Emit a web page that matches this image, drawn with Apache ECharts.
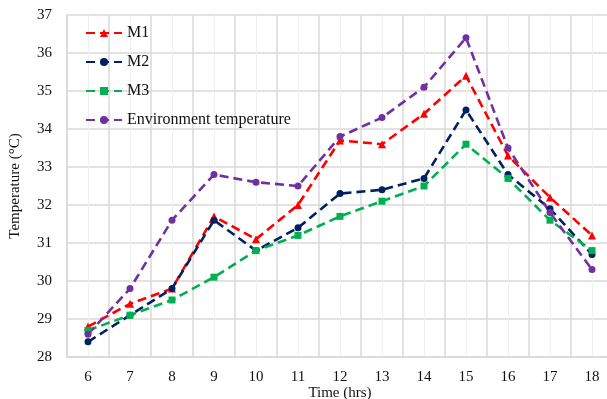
<!DOCTYPE html>
<html>
<head>
<meta charset="utf-8">
<script src="https://cdn.jsdelivr.net/npm/echarts@6/dist/echarts.min.js"></script>
<style>
  html, body { margin: 0; padding: 0; background: #fff; }
  #chart1 { width: 607px; height: 399px; }
</style>
</head>
<body>
<div id="chart1"></div>
<script>
const hours = ['6', '7', '8', '9', '10', '11', '12', '13', '14', '15', '16', '17', '18'];
const m1 = [28.8, 29.4, 29.8, 31.7, 31.1, 32.0, 33.7, 33.6, 34.4, 35.4, 33.3, 32.2, 31.2];
const m2 = [28.4, 29.1, 29.8, 31.6, 30.8, 31.4, 32.3, 32.4, 32.7, 34.5, 32.8, 31.9, 30.7];
const m3 = [28.7, 29.1, 29.5, 30.1, 30.8, 31.2, 31.7, 32.1, 32.5, 33.6, 32.7, 31.6, 30.8];
const envTemp = [28.6, 29.8, 31.6, 32.8, 32.6, 32.5, 33.8, 34.3, 35.1, 36.4, 33.5, 31.8, 30.3];

const serif = 'Liberation Serif';

const makeSeries = (name, data, color, symbol) => ({
  name: name,
  type: 'line',
  data: data,
  symbol: symbol,
  symbolSize: symbol === 'triangle' ? 8 : 7,
  showAllSymbol: true,
  itemStyle: { color: color },
  lineStyle: { color: color, width: 2.6, type: [9, 5] },
  z: 3
});

const getOptionChart1 = () => {
  return {
    animation: false,
    textStyle: { fontFamily: serif },
    grid: { left: 67, right: -6, top: 15, bottom: 42, outerBoundsMode: 'none' },
    legend: {
      orient: 'vertical',
      left: 80,
      top: 20,
      itemGap: 13,
      itemWidth: 36,
      itemHeight: 10,
      textStyle: { fontFamily: serif, fontSize: 16, color: '#111' },
      data: ['M1', 'M2', 'M3', 'Environment temperature']
    },
    xAxis: [{
      type: 'category',
      data: hours,
      boundaryGap: true,
      name: 'Time (hrs)',
      nameLocation: 'middle',
      nameGap: 29,
      nameMoveOverlap: false,
      nameTextStyle: { fontFamily: serif, fontSize: 15, color: '#111' },
      axisLine: { lineStyle: { color: '#d9d9d9', width: 1.5 } },
      axisTick: { show: false },
      axisLabel: { fontFamily: serif, fontSize: 15, color: '#111', margin: 13 },
      splitLine: { show: false }
    }, {
      type: 'value',
      min: 5.5,
      max: 18.5,
      interval: 1,
      position: 'bottom',
      axisLine: { show: false },
      axisTick: { show: false },
      axisLabel: { show: false },
      splitLine: { show: true, lineStyle: { color: '#d9d9d9', width: 1.5 } },
      minorTick: { show: false, splitNumber: 2 },
      minorSplitLine: { show: true, lineStyle: { color: '#efefef', width: 1 } }
    }],
    yAxis: {
      type: 'value',
      min: 28,
      max: 37,
      interval: 1,
      name: 'Temperature (°C)',
      nameLocation: 'middle',
      nameGap: 44,
      nameMoveOverlap: false,
      nameTextStyle: { fontFamily: serif, fontSize: 15, color: '#111' },
      axisLine: { show: true, lineStyle: { color: '#d9d9d9', width: 1.5 } },
      axisTick: { show: false },
      axisLabel: { fontFamily: serif, fontSize: 15, color: '#111', margin: 15 },
      splitLine: { lineStyle: { color: '#d9d9d9', width: 1.5 } }
    },
    series: [
      makeSeries('M1', m1, '#ff0000', 'triangle'),
      makeSeries('M2', m2, '#002060', 'circle'),
      makeSeries('M3', m3, '#00b050', 'rect'),
      makeSeries('Environment temperature', envTemp, '#7030a0', 'circle')
    ]
  };
};

const initChart = () => {
  const chart1 = echarts.init(document.getElementById('chart1'));
  chart1.setOption(getOptionChart1());
};

window.addEventListener('load', function() {
  initChart();
});
</script>
</body>
</html>
